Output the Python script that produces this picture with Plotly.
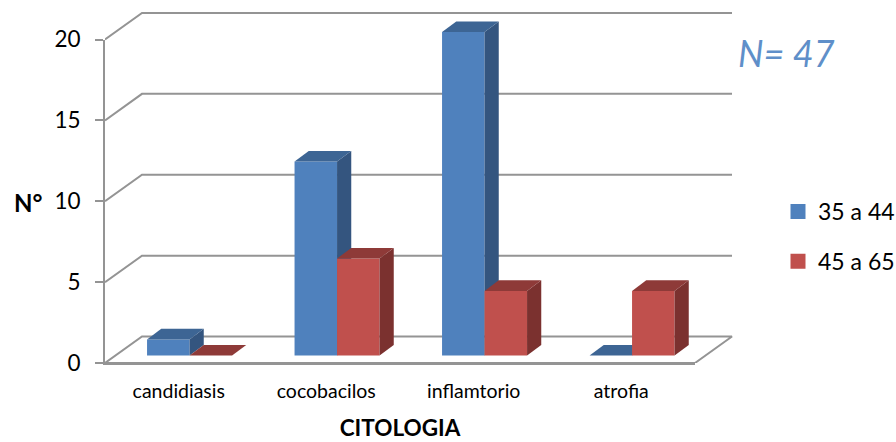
import plotly.graph_objects as go

# Cytology counts per age group
categories = ["candidiasis", "cocobacilos", "inflamtorio", "atrofia"]
series_names = ["35 a 44", "45 a 65"]
values_35_44 = [1, 12, 20, 0]
values_45_65 = [0, 6, 4, 4]
y_ticks = [0, 5, 10, 15, 20]

WIDTH, HEIGHT = 896, 442
LEFT, RIGHT, TOP, BOTTOM = 105, 695, 39.5, 363
PX_X = (RIGHT - LEFT) / len(categories)
PX_Y = (BOTTOM - TOP) / 20

# Drawing area for the perspective marks, larger than the labelled axes
OUTER_RIGHT, OUTER_TOP = 740, 8
OUTER_W, OUTER_H = OUTER_RIGHT - LEFT, BOTTOM - OUTER_TOP

# Pseudo-3D offsets, in axis units
WALL_DX, WALL_DY = 37 / PX_X, 26.5 / PX_Y
BAR_DX, BAR_DY = 14.2 / PX_X, 10.6 / PX_Y
BAR_W = 42.5 / PX_X
BAR_BASE = 7.4 / PX_Y
GROUP_SHIFT = 10.8 / PX_X

GRID = "#949494"
BLUE = ("#4f81bd", "#34557f", "#3d6594")
RED = ("#c0504d", "#7b312f", "#8e3a38")
FONT = "Lato"

fig = go.Figure()

x_left, x_right = -0.5, 3.5

# Keeps the labelled axes active
fig.add_trace(go.Scatter(x=[x_left, x_right], y=[0, 0], mode="lines", showlegend=False,
                         hoverinfo="skip", line=dict(color=GRID, width=2)))

# Back wall lines and the floor outline
for v in y_ticks:
    xs = [x_left, x_left + WALL_DX, x_right + WALL_DX]
    ys = [v, v + WALL_DY, v + WALL_DY]
    if v == 0:
        xs.append(x_right)
        ys.append(v)
    fig.add_trace(go.Scatter(x=xs, y=ys, mode="lines", showlegend=False, xaxis="x2", yaxis="y2",
                             hoverinfo="skip", line=dict(color=GRID, width=2)))


def add_series(values, name, colors, offset, axis_id):
    xa, ya = f"x{axis_id}", f"y{axis_id}"
    lefts = [i + GROUP_SHIFT + offset for i in range(len(values))]
    fig.add_trace(go.Bar(x=[l + BAR_W / 2 for l in lefts], y=values, base=BAR_BASE, width=BAR_W,
                         name=name, showlegend=False, xaxis=xa, yaxis=ya,
                         marker=dict(color=colors[0], line=dict(width=0))))
    for l, v in zip(lefts, values):
        r = l + BAR_W
        bottom, top = BAR_BASE, BAR_BASE + v
        if v > 0:
            fig.add_trace(go.Scatter(
                x=[r, r + BAR_DX, r + BAR_DX, r, r],
                y=[bottom, bottom + BAR_DY, top + BAR_DY, top, bottom],
                mode="lines", fill="toself", fillcolor=colors[1], line=dict(width=0),
                showlegend=False, hoverinfo="skip", xaxis=xa, yaxis=ya))
        fig.add_trace(go.Scatter(
            x=[l, l + BAR_DX, r + BAR_DX, r, l],
            y=[top, top + BAR_DY, top + BAR_DY, top, top],
            mode="lines", fill="toself", fillcolor=colors[2], line=dict(width=0),
            showlegend=False, hoverinfo="skip", xaxis=xa, yaxis=ya))


add_series(values_35_44, series_names[0], BLUE, -BAR_W, 3)
add_series(values_45_65, series_names[1], RED, 0, 4)

# Legend keys
for name, colors in zip(series_names, (BLUE, RED)):
    fig.add_trace(go.Bar(x=[None], y=[None], name=name, legendgroup=name, xaxis="x4", yaxis="y4",
                         marker=dict(color=colors[0], line=dict(color=colors[0], width=3))))

inner_x_domain = [0, (RIGHT - LEFT) / OUTER_W]
inner_y_domain = [0, (BOTTOM - TOP) / OUTER_H]
outer_x_range = [x_left, x_left + OUTER_W / PX_X]
outer_y_range = [0, OUTER_H / PX_Y]


def hidden_x(anchor):
    return dict(range=outer_x_range, domain=[0, 1], anchor=anchor, visible=False)


def hidden_y(anchor):
    return dict(range=outer_y_range, domain=[0, 1], anchor=anchor, visible=False)


def paper_x(px):
    return (px - LEFT) / OUTER_W


def paper_y(px):
    return (BOTTOM - px) / OUTER_H


fig.update_layout(
    width=WIDTH, height=HEIGHT, autosize=False,
    margin=dict(l=LEFT, r=WIDTH - OUTER_RIGHT, t=OUTER_TOP, b=HEIGHT - BOTTOM, pad=0, autoexpand=False),
    paper_bgcolor="white", plot_bgcolor="rgba(0,0,0,0)",
    barmode="overlay",
    font=dict(family=FONT, color="black"),
    xaxis=dict(range=[x_left, x_right], domain=inner_x_domain, anchor="y",
               tickvals=list(range(len(categories))), ticktext=categories,
               ticks="", showgrid=False, zeroline=False, showline=True, linecolor=GRID, linewidth=2,
               tickfont=dict(size=19.5), ticklabelstandoff=10,
               title=dict(text="<b>CITOLOGIA</b>", font=dict(size=22.5), standoff=19)),
    yaxis=dict(range=[0, 20], domain=inner_y_domain, anchor="x",
               tickvals=y_ticks, ticks="outside", ticklen=8, tickwidth=2, tickcolor=GRID,
               showgrid=False, zeroline=False, showline=True, linecolor=GRID, linewidth=2,
               tickfont=dict(size=22.5), ticklabelstandoff=10),
    xaxis2=hidden_x("y2"), yaxis2=hidden_y("x2"),
    xaxis3=hidden_x("y3"), yaxis3=hidden_y("x3"),
    xaxis4=hidden_x("y4"), yaxis4=hidden_y("x4"),
    legend=dict(x=paper_x(778), y=paper_y(190), xref="paper", yref="paper", xanchor="left", yanchor="top",
                font=dict(size=23), tracegroupgap=17, traceorder="grouped", bgcolor="rgba(0,0,0,0)"),
    annotations=[
        dict(text="<b>N°</b>", xref="paper", yref="paper", x=paper_x(28), y=paper_y(203),
             xanchor="center", yanchor="middle", showarrow=False, font=dict(size=24)),
        dict(text="<i>N= 47</i>", xref="paper", yref="paper", x=paper_x(786), y=paper_y(53),
             xanchor="center", yanchor="middle", showarrow=False, font=dict(size=36, color="#5f8fc9")),
    ],
)

fig.write_html("out.html")
